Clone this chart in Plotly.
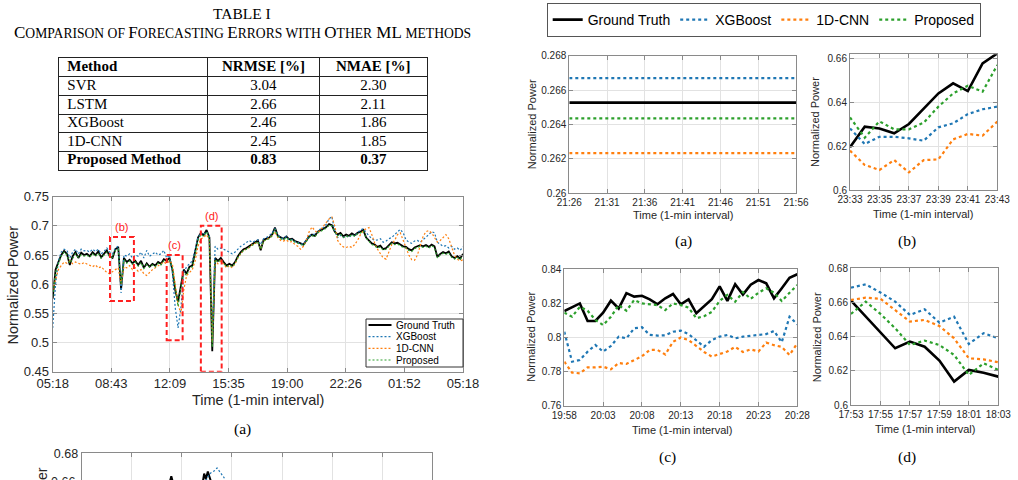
import plotly.graph_objects as go

W, H = 1018, 480


def px(x):
    return x / W


def py(y):
    return 1 - y / H


# ---------------- Table data ----------------
TABLE_HEADER = ["Method", "NRMSE [%]", "NMAE [%]"]
METHODS = ["SVR", "LSTM", "XGBoost", "1D-CNN", "Proposed Method"]
NRMSE = [3.04, 2.66, 2.46, 2.45, 0.83]
NMAE = [2.30, 2.11, 1.86, 1.85, 0.37]

SERIES = ["Ground Truth", "XGBoost", "1D-CNN", "Proposed"]
COLORS = ["#000000", "#1f77b4", "#ff7f0e", "#2ca02c"]

# ---------------- Main 24h chart (10-min samples from 05:18) ----------------
MAIN_TICKS = ["05:18", "08:43", "12:09", "15:35", "19:00", "22:26", "01:52", "05:18"]
MAIN_GT = [
    0.575, 0.625, 0.638, 0.650, 0.657, 0.652, 0.633, 0.648, 0.655, 0.645, 0.654, 0.650,
    0.652, 0.648, 0.655, 0.650, 0.656, 0.646, 0.652, 0.658, 0.648, 0.645, 0.660, 0.664,
    0.591, 0.645, 0.638, 0.642, 0.636, 0.640, 0.633, 0.640, 0.628, 0.636, 0.630, 0.635,
    0.632, 0.638, 0.635, 0.643, 0.640, 0.645, 0.625, 0.590, 0.570, 0.600, 0.625, 0.618,
    0.630, 0.632, 0.655, 0.680, 0.688, 0.684, 0.693, 0.680, 0.485, 0.645, 0.640, 0.645,
    0.638, 0.632, 0.635, 0.632, 0.638, 0.648, 0.655, 0.660, 0.662, 0.665, 0.668, 0.672,
    0.675, 0.658, 0.676, 0.678, 0.680, 0.685, 0.697, 0.683, 0.680, 0.678, 0.682, 0.677,
    0.678, 0.674, 0.672, 0.670, 0.668, 0.675, 0.682, 0.685, 0.683, 0.690, 0.692, 0.695,
    0.698, 0.703, 0.701, 0.690, 0.685, 0.688, 0.682, 0.685, 0.683, 0.687, 0.684, 0.688,
    0.690, 0.693, 0.680, 0.675, 0.670, 0.668, 0.664, 0.666, 0.660, 0.662, 0.668, 0.672,
    0.670, 0.671, 0.668, 0.665, 0.664, 0.660, 0.658, 0.663, 0.665, 0.667, 0.665, 0.667,
    0.664, 0.668, 0.665, 0.647, 0.652, 0.655, 0.653, 0.656, 0.648, 0.645, 0.648, 0.644,
    0.652,
]
MAIN_XGB = [
    0.525, 0.600, 0.640, 0.655, 0.660, 0.658, 0.645, 0.655, 0.660, 0.652, 0.660, 0.657,
    0.658, 0.655, 0.660, 0.656, 0.660, 0.652, 0.656, 0.662, 0.655, 0.652, 0.662, 0.665,
    0.585, 0.650, 0.648, 0.652, 0.645, 0.650, 0.648, 0.655, 0.645, 0.658, 0.648, 0.652,
    0.655, 0.650, 0.652, 0.658, 0.645, 0.650, 0.620, 0.560, 0.525, 0.560, 0.620, 0.630,
    0.635, 0.640, 0.660, 0.680, 0.688, 0.685, 0.690, 0.683, 0.505, 0.665, 0.660, 0.662,
    0.660, 0.658, 0.655, 0.652, 0.655, 0.660, 0.665, 0.668, 0.672, 0.675, 0.672, 0.674,
    0.676, 0.668, 0.678, 0.680, 0.683, 0.688, 0.695, 0.685, 0.680, 0.678, 0.682, 0.676,
    0.677, 0.673, 0.672, 0.668, 0.670, 0.676, 0.683, 0.685, 0.686, 0.690, 0.695, 0.697,
    0.703, 0.712, 0.716, 0.690, 0.680, 0.684, 0.680, 0.683, 0.680, 0.685, 0.682, 0.688,
    0.693, 0.695, 0.688, 0.683, 0.678, 0.675, 0.676, 0.678, 0.672, 0.674, 0.678, 0.680,
    0.685, 0.690, 0.694, 0.688, 0.676, 0.672, 0.670, 0.674, 0.675, 0.672, 0.676, 0.680,
    0.685, 0.690, 0.688, 0.672, 0.668, 0.665, 0.666, 0.662, 0.665, 0.660, 0.662, 0.658,
    0.664,
]
MAIN_CNN = [
    0.590, 0.610, 0.625, 0.632, 0.638, 0.636, 0.640, 0.635, 0.638, 0.636, 0.634, 0.637,
    0.635, 0.632, 0.630, 0.633, 0.628, 0.630, 0.625, 0.620, 0.618, 0.622, 0.625, 0.628,
    0.600, 0.630, 0.628, 0.632, 0.625, 0.628, 0.622, 0.625, 0.618, 0.615, 0.620, 0.625,
    0.628, 0.632, 0.635, 0.638, 0.635, 0.640, 0.635, 0.600, 0.565, 0.550, 0.590, 0.615,
    0.620, 0.625, 0.640, 0.665, 0.678, 0.680, 0.685, 0.675, 0.500, 0.640, 0.635, 0.640,
    0.635, 0.628, 0.632, 0.628, 0.635, 0.645, 0.652, 0.658, 0.660, 0.663, 0.668, 0.670,
    0.672, 0.660, 0.674, 0.676, 0.680, 0.683, 0.690, 0.680, 0.675, 0.674, 0.676, 0.672,
    0.673, 0.668, 0.665, 0.660, 0.665, 0.675, 0.690, 0.698, 0.692, 0.688, 0.693, 0.700,
    0.705, 0.712, 0.715, 0.700, 0.675, 0.668, 0.664, 0.663, 0.665, 0.663, 0.668, 0.675,
    0.685, 0.692, 0.695, 0.697, 0.685, 0.670, 0.660, 0.652, 0.645, 0.643, 0.655, 0.668,
    0.675, 0.685, 0.688, 0.675, 0.660, 0.650, 0.642, 0.641, 0.650, 0.668, 0.682, 0.690,
    0.692, 0.688, 0.680, 0.672, 0.675, 0.680, 0.685, 0.678, 0.665, 0.650, 0.643, 0.640,
    0.642,
]
MAIN_PROP = [
    0.580, 0.620, 0.635, 0.648, 0.655, 0.650, 0.636, 0.645, 0.652, 0.646, 0.650, 0.648,
    0.650, 0.646, 0.652, 0.648, 0.653, 0.645, 0.650, 0.655, 0.647, 0.646, 0.658, 0.660,
    0.600, 0.642, 0.636, 0.640, 0.634, 0.638, 0.631, 0.637, 0.627, 0.634, 0.629, 0.633,
    0.630, 0.636, 0.633, 0.640, 0.638, 0.642, 0.628, 0.598, 0.562, 0.595, 0.620, 0.615,
    0.628, 0.630, 0.650, 0.675, 0.685, 0.682, 0.690, 0.678, 0.492, 0.642, 0.638, 0.642,
    0.636, 0.630, 0.633, 0.630, 0.636, 0.646, 0.653, 0.658, 0.660, 0.663, 0.666, 0.670,
    0.673, 0.660, 0.674, 0.676, 0.678, 0.683, 0.694, 0.682, 0.678, 0.676, 0.680, 0.675,
    0.676, 0.672, 0.670, 0.668, 0.666, 0.673, 0.680, 0.683, 0.681, 0.688, 0.690, 0.693,
    0.696, 0.701, 0.700, 0.689, 0.683, 0.686, 0.680, 0.683, 0.681, 0.685, 0.682, 0.686,
    0.688, 0.691, 0.679, 0.673, 0.668, 0.666, 0.662, 0.664, 0.658, 0.660, 0.666, 0.670,
    0.668, 0.669, 0.666, 0.663, 0.662, 0.658, 0.656, 0.661, 0.663, 0.665, 0.663, 0.665,
    0.662, 0.666, 0.663, 0.645, 0.650, 0.653, 0.651, 0.654, 0.646, 0.643, 0.646, 0.642,
    0.650,
]
MAIN_MIN = [10 * i for i in range(len(MAIN_GT))]

# highlighted windows in the main chart: label, start/end minute, low/high value
BOX_LABELS = ["(b)", "(c)", "(d)"]
BOX_T0 = [201, 400, 520]
BOX_T1 = [285, 456, 593]
BOX_V0 = [0.571, 0.504, 0.45]
BOX_V1 = [0.681, 0.650, 0.70]

# ---------------- Zoomed panels ----------------
A_TICKS = ["21:26", "21:31", "21:36", "21:41", "21:46", "21:51", "21:56"]
A_MIN = [0, 5, 10, 15, 20, 25, 30]
A_GT = [0.26527, 0.26527, 0.26527, 0.26527, 0.26527, 0.26527, 0.26527]
A_XGB = [0.26670, 0.26670, 0.26670, 0.26670, 0.26670, 0.26670, 0.26670]
A_CNN = [0.26233, 0.26233, 0.26233, 0.26233, 0.26233, 0.26233, 0.26233]
A_PROP = [0.26436, 0.26436, 0.26436, 0.26436, 0.26436, 0.26436, 0.26436]

B_TICKS = ["23:33", "23:35", "23:37", "23:39", "23:41", "23:43"]
B_MIN = list(range(11))
B_GT = [0.6194, 0.6288, 0.6280, 0.6258, 0.6300, 0.6371, 0.6439, 0.6485, 0.6450, 0.6576, 0.6621]
B_XGB = [0.6280, 0.6209, 0.6242, 0.6242, 0.6235, 0.6224, 0.6285, 0.6303, 0.6345, 0.6367, 0.6379]
B_CNN = [0.6179, 0.6114, 0.6091, 0.6136, 0.6080, 0.6136, 0.6139, 0.6230, 0.6255, 0.6247, 0.6311]
B_PROP = [0.6330, 0.6238, 0.6312, 0.6276, 0.6276, 0.6306, 0.6379, 0.6439, 0.6474, 0.6447, 0.6568]

C_TICKS = ["19:58", "20:03", "20:08", "20:13", "20:18", "20:23", "20:28"]
C_MIN = list(range(31))
C_GT = [0.8155, 0.8180, 0.8200, 0.8097, 0.8097, 0.8146, 0.8216, 0.8170, 0.8260, 0.8240,
        0.8245, 0.8224, 0.8195, 0.8230, 0.8255, 0.8195, 0.8224, 0.8142, 0.8183, 0.8225,
        0.8300, 0.8215, 0.8312, 0.8252, 0.8310, 0.8337, 0.8318, 0.8230, 0.8289, 0.8350,
        0.8371]
C_XGB = [0.8034, 0.7858, 0.7868, 0.7917, 0.7956, 0.7917, 0.7950, 0.8005, 0.7995, 0.8054,
         0.8060, 0.8015, 0.8011, 0.8013, 0.8034, 0.8040, 0.8020, 0.7985, 0.7946, 0.7985,
         0.8005, 0.8015, 0.7995, 0.8005, 0.8010, 0.8015, 0.8020, 0.8038, 0.7972, 0.8122,
         0.8077]
C_CNN = [0.7858, 0.7794, 0.7790, 0.7825, 0.7825, 0.7829, 0.7813, 0.7850, 0.7845, 0.7868,
         0.7890, 0.7927, 0.7927, 0.7900, 0.7975, 0.8000, 0.7985, 0.7950, 0.7915, 0.7888,
         0.7905, 0.7918, 0.7945, 0.7915, 0.7930, 0.7918, 0.7970, 0.7955, 0.7945, 0.7897,
         0.7966]
C_PROP = [0.8146, 0.8122, 0.8180, 0.8157, 0.8103, 0.8073, 0.8122, 0.8190, 0.8157, 0.8220,
          0.8200, 0.8195, 0.8190, 0.8161, 0.8200, 0.8190, 0.8175, 0.8113, 0.8125, 0.8150,
          0.8215, 0.8250, 0.8210, 0.8267, 0.8227, 0.8262, 0.8289, 0.8262, 0.8214, 0.8262,
          0.8308]

D_TICKS = ["17:53", "17:55", "17:57", "17:59", "18:01", "18:03"]
D_MIN = list(range(11))
D_GT = [0.6611, 0.6519, 0.6425, 0.6332, 0.6371, 0.6341, 0.6260, 0.6137, 0.6205, 0.6189, 0.6166]
D_XGB = [0.6687, 0.6706, 0.6658, 0.6605, 0.6527, 0.6560, 0.6482, 0.6517, 0.6357, 0.6420, 0.6390]
D_CNN = [0.6615, 0.6628, 0.6622, 0.6556, 0.6488, 0.6498, 0.6462, 0.6390, 0.6273, 0.6267, 0.6250]
D_PROP = [0.6533, 0.6605, 0.6533, 0.6449, 0.6351, 0.6377, 0.6351, 0.6293, 0.6176, 0.6244, 0.6205]

# ---------------- Next figure (cut off at the bottom of the page) ----------------
P_GT_MIN = [350, 362, 368, 375, 385, 480, 496, 503, 510, 518, 525, 533, 545]
P_GT = [0.652, 0.659, 0.6635, 0.659, 0.652, 0.652, 0.658, 0.6655, 0.6615, 0.667, 0.662, 0.658, 0.652]
P_XGB_MIN = [500, 515, 530, 545, 556, 570, 585, 600]
P_XGB = [0.655, 0.6625, 0.666, 0.6675, 0.6695, 0.6665, 0.6625, 0.657]

# ---------------- Styling ----------------
SANS = "Liberation Sans, Arial, sans-serif"
SERIF = "Liberation Serif, Times New Roman, serif"
AXC = "#8a8a8a"
GRIDC = "#e2e2e2"
TXT = "#262626"

fig = go.Figure()

# ---- Table drawn on its own axes: rows 0..5 (0 = header), columns in px units ----
COL_WIDTHS = [148, 113, 107]
col_edges = [0]
for w in COL_WIDTHS:
    col_edges.append(col_edges[-1] + w)
rows_text = [TABLE_HEADER] + [[m, "%.2f" % a, "%.2f" % b] for m, a, b in zip(METHODS, NRMSE, NMAE)]
n_rows = len(rows_text)
tx, ty, tt, tp = [], [], [], []
for r, row in enumerate(rows_text):
    bold = (r == 0) or (r == n_rows - 1)
    for c, val in enumerate(row):
        tt.append("<b>%s</b>" % val if bold else val)
        ty.append(r + 0.5)
        if c == 0:
            tx.append(col_edges[0] + 8)
            tp.append("middle right")
        else:
            tx.append((col_edges[c] + col_edges[c + 1]) / 2)
            tp.append("middle center")
fig.add_trace(go.Scatter(x=tx, y=ty, text=tt, mode="text", textposition=tp, showlegend=False,
                         textfont=dict(family=SERIF, size=15, color="black"),
                         cliponaxis=False, hoverinfo="skip", xaxis="x7", yaxis="y7"))

# Main chart
main_dash = ["solid", "2px,2px", "2px,2px", "2px,2px"]
for name, col, vals, dash in zip(SERIES, COLORS, [MAIN_GT, MAIN_XGB, MAIN_CNN, MAIN_PROP], main_dash):
    fig.add_trace(go.Scatter(x=MAIN_MIN, y=vals, mode="lines", name=name, showlegend=False,
                             line=dict(color=col, width=1.8 if dash == "solid" else 1.2, dash=dash),
                             xaxis="x", yaxis="y"))

# Zoomed panels
panels = [
    ("x2", "y2", A_MIN, [A_GT, A_XGB, A_CNN, A_PROP], True),
    ("x3", "y3", B_MIN, [B_GT, B_XGB, B_CNN, B_PROP], False),
    ("x4", "y4", C_MIN, [C_GT, C_XGB, C_CNN, C_PROP], False),
    ("x5", "y5", D_MIN, [D_GT, D_XGB, D_CNN, D_PROP], False),
]
for xa, ya, tmin, series_vals, show in panels:
    for i, (name, col, vals) in enumerate(zip(SERIES, COLORS, series_vals)):
        fig.add_trace(go.Scatter(
            x=tmin, y=vals, mode="lines", name=name, showlegend=show, legend="legend2",
            line=dict(color=col, width=2.6 if i == 0 else 2.2, dash="solid" if i == 0 else "dot"),
            xaxis=xa, yaxis=ya))

# partial next figure
fig.add_trace(go.Scatter(x=P_GT_MIN, y=P_GT, mode="lines", showlegend=False,
                         line=dict(color="black", width=2), xaxis="x6", yaxis="y6"))
fig.add_trace(go.Scatter(x=P_XGB_MIN, y=P_XGB, mode="lines", showlegend=False,
                         line=dict(color=COLORS[1], width=1.2, dash="2px,2px"), xaxis="x6", yaxis="y6"))


def axis(domain, rng, size, **kw):
    d = dict(domain=domain, range=rng, showline=True, linecolor=AXC, linewidth=1,
             mirror="ticks", ticks="inside", ticklen=4, tickcolor=AXC, showgrid=True,
             gridcolor=GRIDC, zeroline=False, tickangle=0,
             tickfont=dict(family=SANS, size=size, color=TXT))
    d.update(kw)
    return d


def table_axis(domain, rng, grid_vals, anchor):
    return dict(domain=domain, range=rng, anchor=anchor, showline=True, linecolor="#222",
                linewidth=1.3, mirror=True, ticks="", showticklabels=False, tickvals=grid_vals,
                showgrid=True, gridcolor="#222", gridwidth=1, zeroline=False, fixedrange=True)


main_tickvals = [i * 1440 / (len(MAIN_TICKS) - 1) for i in range(len(MAIN_TICKS))]
layout_axes = dict(
    xaxis=axis([px(52.7), px(463)], [0, 1440], 13, anchor="y",
               tickvals=main_tickvals, ticktext=MAIN_TICKS),
    yaxis=axis([py(371.7), py(196.7)], [0.45, 0.75], 13, anchor="x", dtick=0.05),
    xaxis2=axis([px(569.3), px(796)], [0, 30], 10, anchor="y2",
                tickvals=[5 * i for i in range(len(A_TICKS))], ticktext=A_TICKS),
    yaxis2=axis([py(193.3), py(55.7)], [0.26, 0.268], 10, anchor="x2", dtick=0.002),
    xaxis3=axis([px(850), px(997.3)], [0, 10], 10, anchor="y3",
                tickvals=[2 * i for i in range(len(B_TICKS))], ticktext=B_TICKS),
    yaxis3=axis([py(190), py(54.3)], [0.6, 0.6617], 10, anchor="x3", dtick=0.02),
    xaxis4=axis([px(564.3), px(797.3)], [0, 30], 10, anchor="y4",
                tickvals=[5 * i for i in range(len(C_TICKS))], ticktext=C_TICKS),
    yaxis4=axis([py(405.7), py(269.3)], [0.76, 0.84], 10, anchor="x4", dtick=0.02),
    xaxis5=axis([px(851), px(998.3)], [0, 10], 10, anchor="y5",
                tickvals=[2 * i for i in range(len(D_TICKS))], ticktext=D_TICKS),
    yaxis5=axis([py(405), py(268.3)], [0.6, 0.68], 10, anchor="x5", dtick=0.02),
    xaxis6=axis([px(81.7), px(432.3)], [0, 1440], 12, anchor="y6", side="top", mirror=False,
                tickvals=main_tickvals, showticklabels=False),
    yaxis6=axis([0, py(453.3)], [0.6609, 0.68], 12.5, anchor="x6", tickvals=[0.68], mirror=True),
    xaxis7=table_axis([px(59.3), px(426.7)], [0, col_edges[-1]], col_edges[1:-1], "y7"),
    yaxis7=table_axis([py(170), py(58.3)], [n_rows, 0], list(range(1, n_rows)), "x7"),
)

shapes = []
annotations = []


def ann(text, x, y, size, family=SANS, color=TXT, angle=0, xanchor="center", **kw):
    d = dict(text=text, x=px(x), y=py(y), xref="paper", yref="paper", showarrow=False,
             font=dict(family=family, size=size, color=color), textangle=angle,
             xanchor=xanchor, yanchor="middle")
    d.update(kw)
    annotations.append(d)


# red dashed windows
for lab, t0, t1, v0, v1 in zip(BOX_LABELS, BOX_T0, BOX_T1, BOX_V0, BOX_V1):
    shapes.append(dict(type="rect", xref="x", yref="y", x0=t0, x1=t1, y0=v0, y1=v1,
                       line=dict(color="#ff2020", width=2, dash="5px,3px")))
    annotations.append(dict(text=lab, x=(t0 + t1) / 2, y=v1, xref="x", yref="y", showarrow=False,
                            yanchor="bottom", yshift=2,
                            font=dict(family=SANS, size=11, color="#ff2020")))

# manual legend for main chart
lx0, lx1, ly0, ly1 = 366, 463, 319, 367
shapes.append(dict(type="rect", xref="paper", yref="paper", x0=px(lx0), x1=px(lx1),
                   y0=py(ly1), y1=py(ly0), line=dict(color="#333", width=1), fillcolor="white",
                   layer="above"))
legend_rows = [325, 336.7, 348.3, 360]
for name, col, dash, yy in zip(SERIES, COLORS, main_dash, legend_rows):
    shapes.append(dict(type="line", xref="paper", yref="paper", x0=px(368.5), x1=px(391.5),
                       y0=py(yy), y1=py(yy), layer="above",
                       line=dict(color=col, width=2 if dash == "solid" else 1.2, dash=dash)))
    ann(name, 393.5, yy, 10, xanchor="left", color="black")

# titles
ann("TABLE I", 242, 13.5, 15.5, family=SERIF, color="black")
s = "<span style='font-size:13.6px'>%s</span>"
sub = ("C" + s % "OMPARISON OF " + "F" + s % "ORECASTING " + "E" + s % "RRORS WITH " +
       "O" + s % "THER" + " ML " + s % "METHODS")
ann(sub, 242, 32.5, 17, family=SERIF, color="black")

# main axis titles and caption
ann("Normalized Power", 12.5, 285, 14.5, angle=-90)
ann("Time (1-min interval)", 258, 400, 14.5)
ann("(a)", 242, 429, 15.5, family=SERIF, color="black")

# zoomed panel axis titles
ann("Normalized Power", 531.7, 124.5, 11, angle=-90)
ann("Time (1-min interval)", 683, 215, 11)
ann("Normalized Power", 815, 122, 11, angle=-90)
ann("Time (1-min interval)", 923, 214, 11)
ann("Normalized Power", 530.7, 337, 11, angle=-90)
ann("Time (1-min interval)", 681.7, 430, 11)
ann("Normalized Power", 817.3, 337, 11, angle=-90)
ann("Time (1-min interval)", 925, 429.3, 11)
ann("(a)", 683, 241, 15.5, family=SERIF, color="black")
ann("(b)", 907, 241, 15.5, family=SERIF, color="black")
ann("(c)", 667, 457, 15.5, family=SERIF, color="black")
ann("(d)", 907, 457, 15.5, family=SERIF, color="black")

# partial figure labels below the page edge
ann("0.66", 77.3, 482, 12.5, xanchor="right")
ann("Normalized Power", 42, 525, 14, angle=-90)

fig.update_layout(
    width=W, height=H, margin=dict(l=0, r=0, t=0, b=0),
    paper_bgcolor="white", plot_bgcolor="white", template="none",
    shapes=shapes, annotations=annotations,
    legend2=dict(orientation="h", x=px(546.7), y=py(3), xanchor="left", yanchor="top",
                 bordercolor="#555", borderwidth=1, bgcolor="white",
                 font=dict(family=SANS, size=14, color="black"), itemwidth=30,
                 tracegroupgap=0),
    **layout_axes,
)

fig.write_html("out.html")
